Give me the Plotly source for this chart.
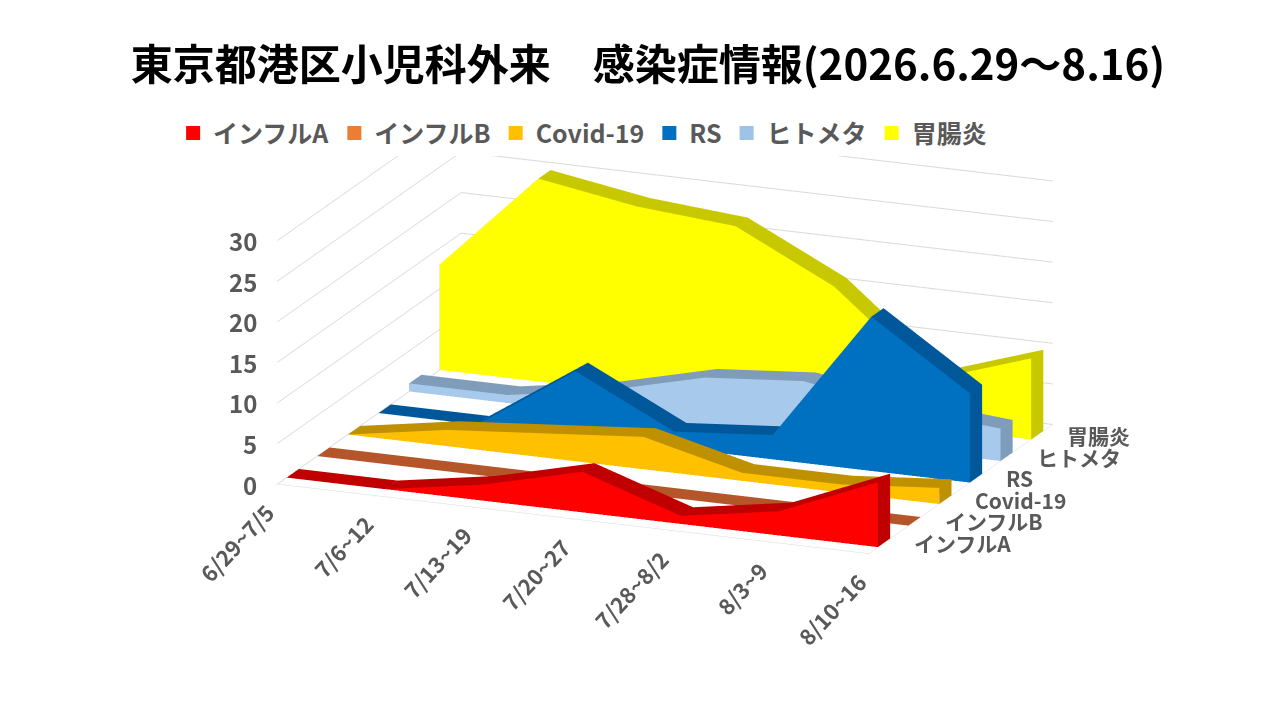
import plotly.graph_objects as go

# weekly counts, Minato-ku pediatric outpatient
weeks = ["6/29~7/5", "7/6~12", "7/13~19", "7/20~27", "7/28~8/2", "8/3~9", "8/10~16"]
names = ["インフルA", "インフルB", "Covid-19", "RS", "ヒトメタ", "胃腸炎"]
zticks = [0, 5, 10, 15, 20, 25, 30]

flu_a = [0, 0, 2, 5, 1, 3, 8]
flu_b = [0, 0, 0, 0, 0, 0, 0]
covid = [0, 2, 3, 4, 1, 1, 2]
rs = [0, 0, 8, 2, 3, 19, 11]
hmpv = [1, 1, 3, 6, 7, 5, 4]
gastro = [13, 25, 23, 22, 16, 6, 10]

legend_colors = ["#FF0000", "#ED7D31", "#FFC000", "#0070C0", "#9DC3E6", "#FFFF00"]
face_colors = ["#FF0000", "#ED7D31", "#FFC000", "#0070C0", "#A7C9EC", "#FFFF00"]
top_colors = ["#C00000", "#B5562A", "#BF9000", "#00589B", "#7F9DBB", "#C8C800"]

FONT = "Noto Sans CJK JP"
GREY = "#595959"

fig = go.Figure()

depth = 0.4
for s, vals in enumerate([flu_a, flu_b, covid, rs, hmpv, gastro]):
    xs, ys, zs = [], [], []
    for i, v in enumerate(vals):
        for yy in (s - depth / 2, s + depth / 2):
            xs += [i, i]
            ys += [yy, yy]
            zs += [0, v]
    I, J, K, fc = [], [], [], []

    def quad(a, b, c, d, col):
        I.extend([a, a])
        J.extend([b, c])
        K.extend([c, d])
        fc.extend([col, col])

    for i in range(len(vals) - 1):
        fb, ft, bb, bt = 4 * i, 4 * i + 1, 4 * i + 2, 4 * i + 3
        quad(fb, fb + 4, ft + 4, ft, face_colors[s])
        quad(ft, ft + 4, bt + 4, bt, top_colors[s])
        quad(bb, bb + 4, bt + 4, bt, face_colors[s])
    last = 4 * (len(vals) - 1)
    quad(0, 2, 3, 1, top_colors[s])
    quad(last, last + 2, last + 3, last + 1, top_colors[s])

    fig.add_trace(go.Mesh3d(
        x=xs, y=ys, z=zs, i=I, j=J, k=K, facecolor=fc,
        flatshading=True,
        lighting=dict(ambient=1, diffuse=0, specular=0, roughness=1, fresnel=0),
        hoverinfo="skip", showlegend=False,
    ))

# legend entries
for name, col in zip(names, legend_colors):
    fig.add_trace(go.Scatter(x=[None], y=[None], mode="markers", name=name,
                             marker=dict(symbol="square", size=14, color=col)))

lab_font = dict(family=FONT, size=22, color=GREY, weight="bold")
y_front = -0.5
x_right = len(weeks) - 1

# axis labels as scene annotations (gl tick labels can't be anchored like Excel's)
notes = []
for i, w in enumerate(weeks):
    notes.append(dict(x=i, y=y_front, z=0, text=w, showarrow=False, textangle=-47,
                      xanchor="right", yanchor="top", xshift=6, yshift=-10, font=lab_font))
for s, n in enumerate(names):
    notes.append(dict(x=x_right, y=s, z=0, text=n, showarrow=False,
                      xanchor="left", yanchor="middle", xshift=28, font=dict(lab_font, size=21)))
for v in zticks:
    notes.append(dict(x=0, y=y_front, z=v, text=str(v), showarrow=False,
                      xanchor="right", yanchor="middle", xshift=-18, font=dict(lab_font, size=24)))

axis_common = dict(showbackground=False, zeroline=False, showspikes=False, title="",
                   showticklabels=False)

fig.update_layout(
    width=1280, height=720,
    paper_bgcolor="white", plot_bgcolor="rgba(0,0,0,0)",
    margin=dict(l=0, r=0, t=0, b=0),
    title=dict(text="東京都港区小児科外来　感染症情報(2026.6.29～8.16)",
               x=0.5, xanchor="center", y=0.92, yanchor="middle",
               font=dict(family=FONT, size=42, color="black", weight="bold")),
    legend=dict(orientation="h", x=0.129, xanchor="left", y=0.826, yanchor="middle",
                font=dict(family=FONT, size=25, color=GREY, weight="bold")),
    xaxis=dict(visible=False), yaxis=dict(visible=False),
    scene=dict(
        domain=dict(x=[0.0266, 1.0], y=[0.0987, 1.0]),
        aspectmode="manual",
        aspectratio=dict(x=1.969, y=1.496, z=0.7835),
        camera=dict(eye=dict(x=1.161, y=-2.837, z=0.92),
                    center=dict(x=0, y=0, z=0),
                    projection=dict(type="orthographic")),
        annotations=notes,
        xaxis=dict(axis_common, tickvals=list(range(len(weeks))),
                   range=[0, x_right], showgrid=False,
                   showline=True, linecolor="#D9D9D9", ticks="outside", tickcolor="#D9D9D9"),
        yaxis=dict(axis_common, tickvals=list(range(len(names))),
                   range=[y_front, len(names) - 0.5], showgrid=False,
                   showline=True, linecolor="#D9D9D9", ticks="outside", tickcolor="#D9D9D9"),
        zaxis=dict(axis_common, range=[0, 30], tickvals=zticks, showgrid=True,
                   gridcolor="#D9D9D9"),
    ),
)

fig.write_html("out.html")
